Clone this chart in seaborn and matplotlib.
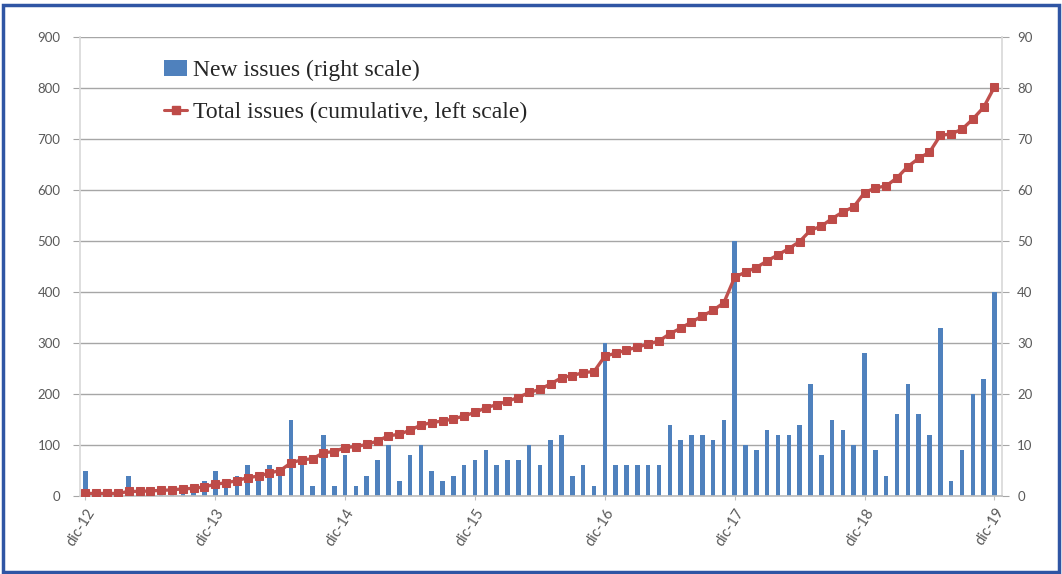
import numpy as np
import pandas as pd
import matplotlib
matplotlib.use("Agg")
import matplotlib.pyplot as plt
from matplotlib.patches import Patch
from matplotlib.lines import Line2D
import seaborn as sns

# Monthly new issues, Dec 2012 .. Dec 2019 (right scale)
new_issues = [
    5, 0, 0, 0, 4, 0, 1, 1, 1, 2, 1, 3,
    5, 3, 4, 6, 3, 6, 5, 15, 6, 2, 12, 2,
    8, 2, 4, 7, 10, 3, 8, 10, 5, 3, 4, 6,
    7, 9, 6, 7, 7, 10, 6, 11, 12, 4, 6, 2,
    30, 6, 6, 6, 6, 6, 14, 11, 12, 12, 11, 15,
    50, 10, 9, 13, 12, 12, 14, 22, 8, 15, 13, 10,
    28, 9, 4, 16, 22, 16, 12, 33, 3, 9, 20, 23,
    40,
]
# Running total of issues (left scale)
total_issues = np.cumsum(new_issues)

year_labels = ["dic-12", "dic-13", "dic-14", "dic-15", "dic-16", "dic-17", "dic-18", "dic-19"]
left_ticks = [0, 100, 200, 300, 400, 500, 600, 700, 800, 900]
right_ticks = [0, 10, 20, 30, 40, 50, 60, 70, 80, 90]

legend_bar = "New issues (right scale)"
legend_line = "Total issues (cumulative, left scale)"

months = np.arange(len(new_issues))
df = pd.DataFrame({"month": months, "new": new_issues, "total": total_issues})

sns.set_theme(style="white")
plt.rcParams["font.family"] = ["Lato", "DejaVu Sans"]

W, H = 1062, 574
fig = plt.figure(figsize=(W / 100, H / 100), dpi=100)

# plot area in pixel coordinates
x0, x1, ytop, ybot = 80, 1002, 37, 496
ax_bar = fig.add_axes([x0 / W, (H - ybot) / H, (x1 - x0) / W, (ybot - ytop) / H])
ax_line = ax_bar.twinx()

bar_color = "#4F81BD"
line_color = "#C0504D"
grid_color = "#A6A6A6"
text_color = "#595959"

# bars: new issues on the right scale
sns.barplot(data=df, x="month", y="new", ax=ax_bar, native_scale=True,
            color=bar_color, saturation=1, width=0.42, linewidth=0, zorder=2)
ax_bar.set_ylim(0, 90)
ax_bar.set_yticks(right_ticks)
ax_bar.yaxis.tick_right()
ax_bar.yaxis.set_label_position("right")
ax_bar.grid(axis="y", color=grid_color, linewidth=1.0, zorder=0)
ax_bar.set_axisbelow(True)

# line: cumulative total on the left scale
sns.lineplot(data=df, x="month", y="total", ax=ax_line, color=line_color,
             linewidth=2.4, marker="s", markersize=5.2,
             markerfacecolor="#BE4B48", markeredgecolor="#BE4B48")
ax_line.set_ylim(0, 900)
ax_line.set_yticks(left_ticks)
ax_line.yaxis.tick_left()
ax_line.yaxis.set_label_position("left")

ax_bar.set_xlim(-0.5, 84.7)
ax_bar.set_xticks(np.arange(0, len(new_issues), 12))
ax_bar.set_xticklabels(year_labels, rotation=58, ha="right", rotation_mode="anchor")

for a in (ax_bar, ax_line):
    a.set_xlabel("")
    a.set_ylabel("")
    for s in a.spines.values():
        s.set_visible(False)

ax_bar.spines["bottom"].set_visible(True)
ax_bar.spines["bottom"].set_color("#BFBFBF")
ax_bar.spines["right"].set_visible(True)
ax_bar.spines["right"].set_color("#D9D9D9")
ax_line.spines["left"].set_visible(True)
ax_line.spines["left"].set_color("#D9D9D9")

ax_bar.tick_params(axis="y", which="both", right=True, length=5, width=0.8,
                   color=grid_color, labelsize=9.5, labelcolor=text_color, pad=6)
ax_line.tick_params(axis="y", which="both", left=True, right=False, length=5,
                    width=0.8, color=grid_color, labelsize=9.5,
                    labelcolor=text_color, pad=9)
ax_bar.tick_params(axis="x", bottom=True, length=3, width=0.8, color="#BFBFBF",
                   labelsize=10.5, labelcolor=text_color, pad=4)

# legend
handles = [
    Patch(facecolor=bar_color, edgecolor="none"),
    Line2D([0], [0], color=line_color, linewidth=2.2, marker="s",
           markersize=5.5, markerfacecolor="#BE4B48", markeredgecolor="#BE4B48"),
]
ax_line.legend(handles, [legend_bar, legend_line], loc="upper left",
               bbox_to_anchor=(152 / W, 1 - 48 / H), bbox_transform=fig.transFigure,
               frameon=False, borderpad=0, handlelength=1.0, handletextpad=0.25,
               labelspacing=0.85,
               prop={"family": "Liberation Serif", "size": 17})

# blue frame around the figure
frame = plt.Rectangle((3 / W, 2 / H), (W - 6) / W, (H - 7) / H,
                      transform=fig.transFigure, fill=False,
                      edgecolor="#2F55A4", linewidth=2.5)
fig.patches.append(frame)

fig.savefig("out.png", dpi=100)
